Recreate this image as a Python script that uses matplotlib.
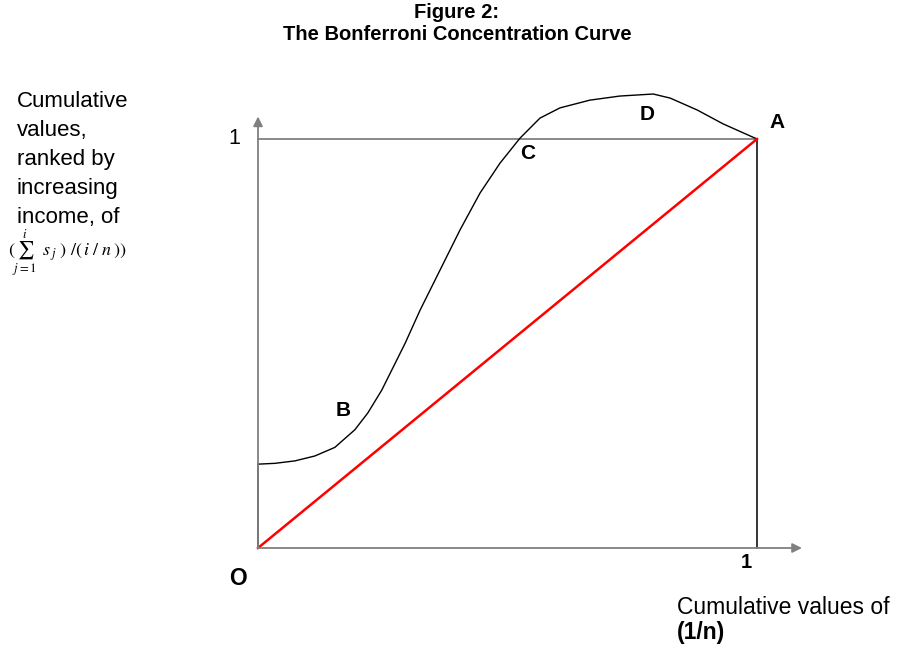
import matplotlib
matplotlib.use("Agg")
import matplotlib.pyplot as plt

plt.rcParams['font.family'] = ['Liberation Sans', 'DejaVu Sans']
plt.rcParams['mathtext.fontset'] = 'stix'

# Bonferroni curve (x = cumulative 1/n, y = curve value)
curve_x = [0.000, 0.034, 0.074, 0.114, 0.154, 0.194, 0.220, 0.248, 0.275, 0.295,
           0.325, 0.365, 0.405, 0.445, 0.485, 0.525, 0.565, 0.605, 0.665, 0.725,
           0.792, 0.826, 0.880, 0.932, 1.000]
curve_y = [0.205, 0.207, 0.213, 0.225, 0.246, 0.289, 0.330, 0.386, 0.452, 0.501,
           0.582, 0.680, 0.778, 0.868, 0.941, 1.002, 1.051, 1.076, 1.095, 1.105,
           1.110, 1.100, 1.071, 1.037, 1.000]
# line of equality
eq_x = [0.0, 1.0]
eq_y = [0.0, 1.0]

point_labels = ["A", "B", "C", "D"]
point_x = [1.04, 0.17, 0.54, 0.78]
point_y = [1.04, 0.335, 0.965, 1.06]

W, H = 902, 648
fig = plt.figure(figsize=(W / 100, H / 100), dpi=100)
ax = fig.add_axes([0, 0, 1, 1])
x0px, x1px = 258, 757
y0px, y1px = 548, 139
sx = x1px - x0px
sy = y0px - y1px
ax.set_xlim(-x0px / sx, (W - x0px) / sx)
ax.set_ylim(-(H - y0px) / sy, y0px / sy)
ax.axis('off')

gray = '#808080'
# axes with arrows
ax.annotate('', xy=(1.09, 0), xytext=(0, 0),
            arrowprops=dict(arrowstyle='-|>', color=gray, lw=1.3,
                            mutation_scale=14, shrinkA=0, shrinkB=0))
ax.annotate('', xy=(0, 1.055), xytext=(0, 0),
            arrowprops=dict(arrowstyle='-|>', color=gray, lw=1.3,
                            mutation_scale=14, shrinkA=0, shrinkB=0))
# box lines
ax.plot([0, 1], [1, 1], color=gray, lw=1.3)
ax.plot([1, 1], [0, 1], color='black', lw=1.1)
ax.plot([0, 0], [0, curve_y[0]], color='black', lw=1.1)

# curve and line of equality
ax.plot(curve_x, curve_y, color='black', lw=1.0, solid_joinstyle='round',
        solid_capstyle='round')
ax.plot(eq_x, eq_y, color='#ff0000', lw=1.8)

for lab, px, py in zip(point_labels, point_x, point_y):
    ax.text(px, py, lab, fontsize=15, fontweight='bold', ha='center', va='center')

ax.text(-0.04, -0.075, 'O', fontsize=16.5, fontweight='bold', ha='center', va='center')
ax.text(0.978, -0.035, '1', fontsize=14.5, fontweight='bold', ha='center', va='center')
ax.text(-0.048, 1.0, '1', fontsize=15.5, ha='center', va='center')

fig.text(457 / W, 1 - 13 / H, 'Figure 2:', fontsize=14.5, fontweight='bold',
         ha='center', va='center')
fig.text(457 / W, 1 - 34 / H, 'The Bonferroni Concentration Curve', fontsize=14.5,
         fontweight='bold', ha='center', va='center')

fig.text(17 / W, 1 - 91 / H, 'Cumulative\nvalues,\nranked by\nincreasing\nincome, of',
         fontsize=16, ha='left', va='top', linespacing=1.5)
fig.text(8 / W, 1 - 253 / H,
         r'$(\sum_{j=1}^{i}\ \,s_{\,j}\ )\ /(\,i\ /\ n\,))$',
         fontsize=13, ha='left', va='center')

fig.text(677 / W, 1 - 607 / H, 'Cumulative values of', fontsize=16.5,
         ha='left', va='center')
fig.text(677 / W, 1 - 633 / H, '(1/n)', fontsize=16.5, fontweight='bold',
         ha='left', va='center')

fig.savefig('out.png', dpi=100)
